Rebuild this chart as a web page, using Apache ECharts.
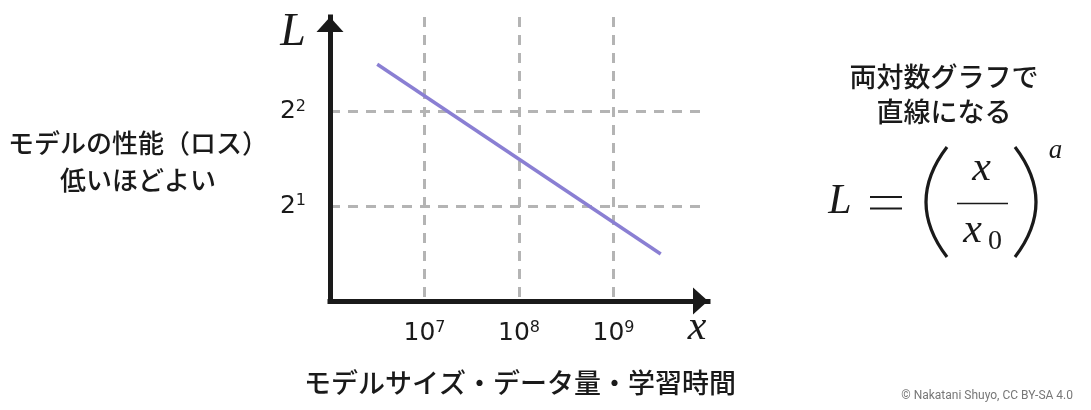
<!DOCTYPE html>
<html><head><meta charset="utf-8">
<script src="https://cdn.jsdelivr.net/npm/echarts@6/dist/echarts.min.js"></script>
<style>html,body{margin:0;padding:0;background:#fff}#c{width:1091px;height:410px}</style>
</head><body><div id="c"></div>
<script>
// ---- data ----
const modelScale = [3.16e6, 3.16e9];     // x: model size / data / compute
const loss = [5.66, 1.41];               // L: loss
const xTickExponents = [7, 8, 9];        // labelled ticks 10^7..10^9
const yTickExponents = [1, 2];           // labelled ticks 2^1, 2^2
const yTitleLines = ['モデルの性能（ロス）', '低いほどよい'];
const xTitle = 'モデルサイズ・データ量・学習時間';
const noteLines = ['両対数グラフで', '直線になる'];
const credit = '© Nakatani Shuyo, CC BY-SA 4.0';

// ---- chart ----
const chart = echarts.init(document.getElementById('c'), null, { renderer: 'canvas' });
const lineData = modelScale.map((x, i) => [x, loss[i]]);
const ink = '#1a1a1a';
const gridColor = '#b4b4b4';
const digitFont = 'DejaVu Sans';
const cjk = '"Noto Sans CJK JP"';
const math = '"Liberation Serif"';

function sup(base, e) { return '{b|' + base + '}{s|' + e + '}'; }
const rich = {
  b: { fontFamily: digitFont, fontSize: 25, lineHeight: 26, color: ink },
  s: { fontFamily: digitFont, fontSize: 16, lineHeight: 16, color: ink, verticalAlign: 'top' }
};
function axisLineStyle() {
  return { show: true, onZero: false, symbol: ['none', 'triangle'], symbolSize: [27, 15], symbolOffset: [0, -7.5],
           lineStyle: { color: ink, width: 5, cap: 'square' } };
}
const splitLine = { show: true, showMinLine: false, showMaxLine: false,
  lineStyle: { color: gridColor, width: 3, type: [10, 8] } };

function txt(text, x, y, font, fill, align, extra) {
  return { type: 'text', x: x, y: y, silent: true,
    style: Object.assign({ text: text, font: font, fill: fill, align: align, textAlign: align,
      verticalAlign: 'middle', textVerticalAlign: 'middle' }, extra || {}) };
}
function seg(x1, y1, x2, y2, w) {
  return { type: 'line', silent: true, shape: { x1: x1, y1: y1, x2: x2, y2: y2 }, style: { stroke: ink, lineWidth: w } };
}
function paren(xEnd, cpx) {
  return { type: 'bezierCurve', silent: true, shape: { x1: xEnd, y1: 147, x2: xEnd, y2: 257, cpx1: cpx, cpy1: 202 },
    style: { stroke: ink, lineWidth: 3.2, fill: null } };
}

const option = {
  animation: false,
  backgroundColor: '#ffffff',
  grid: { left: 330, top: 17, width: 378, height: 284, containLabel: false, outerBoundsMode: 'none' },
  xAxis: {
    type: 'log', logBase: 10, min: 1e6, max: 1e10,
    axisLine: axisLineStyle(),
    axisTick: { show: false },
    axisLabel: { margin: 19, formatter: function (v) {
      const e = Math.round(Math.log10(v)); return xTickExponents.indexOf(e) >= 0 ? sup(10, e) : ''; }, rich: rich },
    splitLine: splitLine
  },
  yAxis: {
    type: 'log', logBase: 2, min: 1, max: 8,
    axisLine: axisLineStyle(),
    axisTick: { show: false },
    axisLabel: { margin: 24, formatter: function (v) {
      const e = Math.round(Math.log2(v)); return yTickExponents.indexOf(e) >= 0 ? sup(2, e) : ''; }, rich: rich },
    splitLine: splitLine
  },
  series: [{
    type: 'line', data: lineData, symbol: 'none', showSymbol: false, silent: true,
    lineStyle: { color: '#8a7fd3', width: 3.5 }
  }],
  graphic: [
    txt('L', 293, 33, 'italic 46px ' + math, ink, 'center'),
    txt('x', 697, 328, 'italic 42px ' + math, ink, 'center'),
    txt(yTitleLines.join('\n'), 138, 161.5, '500 26px ' + cjk, ink, 'center', { lineHeight: 37 }),
    txt(xTitle, 520, 383, '500 27px ' + cjk, ink, 'center'),
    txt(noteLines.join('\n'), 944, 94.5, '500 27px ' + cjk, ink, 'center', { lineHeight: 35 }),
    txt(credit, 1073, 396, '12px Roboto', '#777777', 'right'),
    // formula L = (x / x0)^a
    txt('L', 840, 202, 'italic 42px ' + math, ink, 'center'),
    seg(870, 197, 902, 197, 2),
    seg(870, 208.5, 902, 208.5, 2),
    paren(947, 905),
    txt('x', 981.5, 169, 'italic 42px ' + math, ink, 'center'),
    seg(957, 203.5, 1008, 203.5, 1.6),
    txt('x', 972.5, 231, 'italic 42px ' + math, ink, 'center'),
    txt('0', 995, 242, '28px ' + math, ink, 'center'),
    paren(1015, 1057),
    txt('a', 1055.5, 151, 'italic 27px ' + math, ink, 'center')
  ]
};
chart.setOption(option);
</script>
</body></html>
